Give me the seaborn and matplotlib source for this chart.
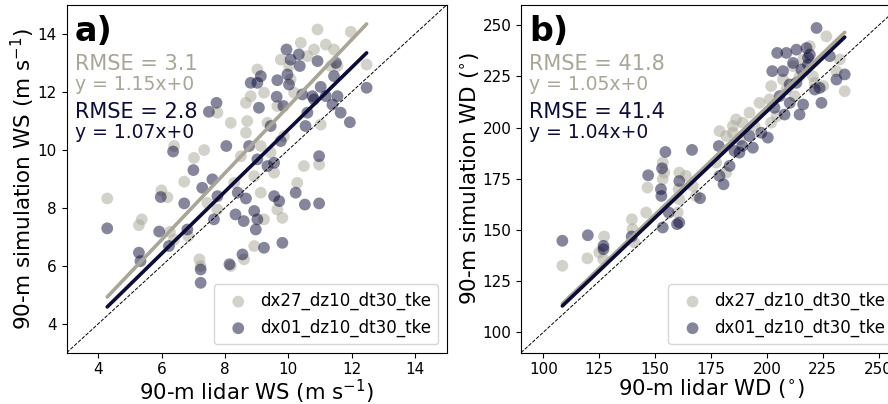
import matplotlib
matplotlib.use("Agg")
import matplotlib.pyplot as plt
import seaborn as sns
import numpy as np
import pandas as pd

# --- Colours and labels ---
GRAY = '#a9a697'
NAVY = '#0c0c3a'
RUN_NAMES = ['dx27_dz10_dt30_tke', 'dx01_dz10_dt30_tke']

# --- Panel a: wind speed ---
WS_LIDAR_DX27 = [4.28, 5.28, 5.37, 5.99, 6.18, 6.26, 6.39, 6.71, 7.02, 7.34, 7.19, 7.23,
                 6.84, 7.76, 8.18, 8.18, 8.66, 8.70, 8.66, 9.02, 8.81, 8.92, 8.60, 9.23,
                 9.34, 9.13, 9.23, 9.44, 9.55, 9.65, 9.81, 9.76, 9.86, 10.02, 10.07, 10.28,
                 10.39, 10.49, 10.81, 10.92, 10.97, 11.02, 11.18, 11.34, 11.44, 11.55, 11.97,
                 12.47, 10.60, 10.18, 7.44, 7.76, 6.39, 8.29, 8.92, 9.13, 8.50, 9.65]
WS_SIM_DX27 = [8.32, 7.40, 7.60, 8.60, 8.36, 7.17, 10.13, 8.90, 9.72, 9.99, 6.22, 5.99,
               7.02, 11.28, 10.93, 5.99, 10.59, 10.99, 11.62, 12.77, 11.85, 6.68, 6.22, 7.60,
               10.93, 10.13, 11.97, 9.90, 9.21, 7.94, 7.65, 13.11, 10.47, 12.89, 12.43, 8.86,
               13.69, 9.44, 13.46, 14.15, 9.49, 10.87, 13.63, 12.89, 13.46, 12.89, 14.07,
               12.94, 13.23, 11.97, 8.17, 7.94, 6.90, 8.86, 9.09, 8.52, 9.78, 11.51]

WS_LIDAR_DX01 = [4.28, 5.28, 5.33, 5.92, 5.97, 6.23, 6.36, 6.71, 6.81, 7.00, 7.23, 7.23,
                 7.28, 7.49, 7.73, 7.65, 7.60, 7.76, 8.04, 8.14, 8.33, 8.40, 8.55, 8.59,
                 8.66, 8.76, 8.81, 8.92, 8.97, 9.02, 9.02, 9.07, 9.02, 9.13, 9.23, 9.34,
                 9.44, 9.55, 9.55, 9.63, 9.65, 9.71, 9.76, 9.81, 9.84, 9.94, 10.02, 10.07,
                 10.23, 10.33, 10.36, 10.44, 10.52, 10.54, 10.60, 10.76, 10.81, 10.92, 10.97,
                 10.97, 11.02, 11.18, 11.39, 11.44, 11.50, 11.65, 11.94, 12.47, 9.97, 11.55]
WS_SIM_DX01 = [7.29, 6.45, 6.16, 7.18, 8.37, 6.68, 9.94, 8.15, 7.25, 9.30, 5.87, 5.41,
               8.69, 11.31, 11.62, 7.60, 8.98, 8.40, 10.13, 6.05, 7.77, 8.52, 6.39, 7.54,
               8.32, 10.13, 12.31, 7.89, 7.25, 7.60, 12.31, 11.45, 9.67, 12.54, 6.62, 9.44,
               10.82, 8.40, 9.55, 11.83, 12.40, 8.23, 10.30, 6.79, 11.51, 13.46, 12.25, 13.11,
               8.52, 13.29, 12.89, 11.91, 8.11, 10.82, 11.28, 11.85, 11.74, 13.06, 9.78,
               8.15, 12.17, 11.85, 11.56, 12.54, 13.00, 11.28, 10.95, 12.14, 12.60, 11.85]

# --- Panel b: wind direction ---
WD_LIDAR_DX27 = [108.5, 119.7, 127.2, 126.8, 139.6, 139.9, 146.6, 146.0, 153.4, 153.4,
                 160.8, 160.5, 160.1, 163.8, 168.3, 177.3, 181.8, 181.8, 184.8, 186.2,
                 189.2, 192.2, 196.7, 201.2, 201.9, 201.9, 207.2, 208.7, 211.7, 216.2,
                 219.2, 221.4, 225.2, 226.6, 232.6, 234.8, 231.1, 194.5, 204.4, 212.4,
                 214.6, 220.6, 166.8, 154.1, 160.8, 140.7, 125.0, 184.8, 187.8, 178.8]
WD_SIM_DX27 = [132.5, 136.1, 146.8, 135.7, 155.2, 150.4, 170.7, 158.5, 182.9, 174.8,
               178.0, 169.9, 158.5, 176.4, 166.6, 182.9, 178.0, 195.9, 200.8, 204.0,
               202.4, 207.3, 212.1, 213.8, 220.3, 202.4, 223.5, 218.6, 230.0, 233.3,
               239.8, 221.9, 220.3, 244.6, 233.3, 217.8, 227.6, 200.8, 205.6, 215.4,
               225.1, 225.1, 171.5, 178.0, 165.0, 143.9, 139.0, 197.5, 194.3, 198.3]

WD_LIDAR_DX01 = [108.5, 119.9, 126.9, 126.9, 139.5, 146.9, 153.1, 154.6, 152.6, 152.8,
                 153.4, 156.1, 159.8, 160.8, 160.8, 166.5, 170.1, 178.5, 178.8, 180.6,
                 183.3, 185.5, 187.7, 189.0, 192.2, 193.7, 197.5, 200.4, 202.4, 203.4,
                 204.6, 207.9, 208.7, 210.2, 211.7, 213.2, 214.6, 215.4, 216.2, 217.7,
                 218.4, 219.2, 222.2, 223.6, 224.4, 228.1, 231.1, 234.8, 213.2, 221.4,
                 205.7, 207.2, 210.2, 218.4]
WD_SIM_DX01 = [144.7, 147.4, 142.2, 140.6, 146.8, 176.7, 180.1, 188.1, 169.9, 166.6,
               151.2, 158.5, 152.8, 173.9, 153.6, 189.1, 165.5, 191.0, 176.4, 172.3,
               181.3, 188.6, 187.8, 191.0, 195.9, 190.2, 197.5, 195.1, 227.6, 209.7,
               236.5, 206.4, 236.5, 212.1, 231.6, 238.1, 206.4, 228.4, 211.3, 238.9,
               234.1, 235.7, 248.7, 219.4, 212.1, 234.9, 223.5, 226.0, 221.9, 218.6,
               215.4, 227.6, 221.1, 230.8]

# --- Fit statistics shown on the figure ---
WS_RMSE = [3.1, 2.8]
WS_SLOPE = [1.15, 1.07]
WD_RMSE = [41.8, 41.4]
WD_SLOPE = [1.05, 1.04]


def draw_panel(ax, lidar, sim, rmse, slope, letter, lims, ticks, xlabel, ylabel):
    colors = [GRAY, NAVY]
    for x, y, c, name in zip(lidar, sim, colors, RUN_NAMES):
        df = pd.DataFrame({'lidar': x, 'sim': y})
        sns.scatterplot(data=df, x='lidar', y='sim', ax=ax, color=c, alpha=0.5,
                        s=72, edgecolor='none', label=name, zorder=2)
    # zero-intercept fit lines over the data range
    for x, c, m in zip(lidar, colors, slope):
        xs = np.array([min(x), max(x)])
        ax.plot(xs, m * xs, color=c, lw=2.6, zorder=3, solid_capstyle='round')
    ax.plot([0, 1], [0, 1], transform=ax.transAxes, color='k', ls='--', lw=0.7, zorder=4)

    ax.set_xlim(lims)
    ax.set_ylim(lims)
    ax.set_xticks(ticks)
    ax.set_yticks(ticks)
    ax.tick_params(labelsize=11)
    ax.set_xlabel(xlabel, fontsize=15.3, labelpad=0)
    ax.set_ylabel(ylabel, fontsize=15.5, labelpad=0.5)

    ax.text(0.022, 0.895, letter, transform=ax.transAxes, fontsize=24,
            fontweight='bold', va='baseline')
    ax.text(0.022, 0.813, f"RMSE = {rmse[0]}", transform=ax.transAxes,
            fontsize=15, color=GRAY, va='baseline')
    ax.text(0.022, 0.754, f"y = {slope[0]:.2f}x+0", transform=ax.transAxes,
            fontsize=13.5, color=GRAY, va='baseline')
    ax.text(0.022, 0.674, f"RMSE = {rmse[1]}", transform=ax.transAxes,
            fontsize=15, color=NAVY, va='baseline')
    ax.text(0.022, 0.617, f"y = {slope[1]:.2f}x+0", transform=ax.transAxes,
            fontsize=13.5, color=NAVY, va='baseline')

    ax.legend(loc='lower right', fontsize=12, handletextpad=0.3, borderpad=0.45,
              labelspacing=0.5)


fig = plt.figure(figsize=(8.88, 4.04), dpi=100)
ax_a = fig.add_axes([0.0751, 0.127, 0.428, 0.861])
ax_b = fig.add_axes([0.5867, 0.127, 0.428, 0.861])

draw_panel(ax_a, [WS_LIDAR_DX27, WS_LIDAR_DX01], [WS_SIM_DX27, WS_SIM_DX01],
           WS_RMSE, WS_SLOPE, 'a)', (3, 15), range(4, 15, 2),
           r'90-m lidar WS (m s$^{-1}$)', r'90-m simulation WS (m s$^{-1}$)')
draw_panel(ax_b, [WD_LIDAR_DX27, WD_LIDAR_DX01], [WD_SIM_DX27, WD_SIM_DX01],
           WD_RMSE, WD_SLOPE, 'b)', (90, 260), range(100, 251, 25),
           r'90-m lidar WD ($^{\circ}$)', r'90-m simulation WD ($^{\circ}$)')

fig.savefig('out.png', dpi=100)
